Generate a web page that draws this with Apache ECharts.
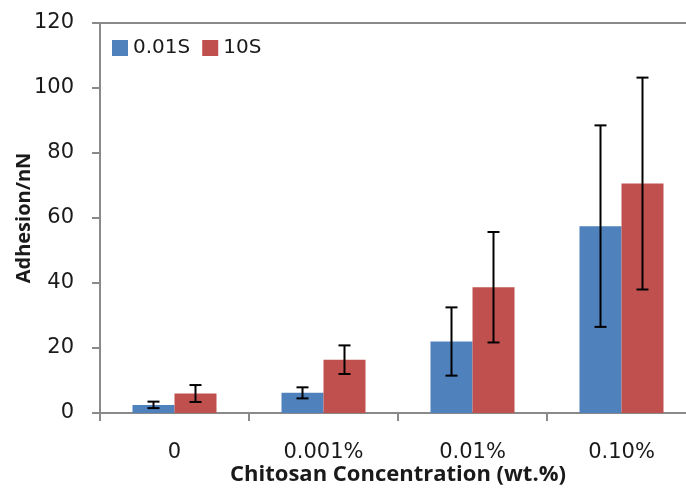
<!DOCTYPE html>
<html>
<head>
<meta charset="utf-8">
<script src="https://cdn.jsdelivr.net/npm/echarts@6/dist/echarts.min.js"></script>
<style>html,body{margin:0;padding:0;background:#fff;overflow:hidden;}#c{width:686px;height:489px;}</style>
</head>
<body>
<div id="c"></div>
<script>
var categories = ['0', '0.001%', '0.01%', '0.10%'];
var seriesNames = ['0.01S', '10S'];
var blueValues = [2.5, 6.2, 22.0, 57.5];
var blueErrors = [1.0, 1.7, 10.5, 31.0];
var redValues = [6.0, 16.4, 38.7, 70.6];
var redErrors = [2.6, 4.4, 17.0, 32.6];
var yTicks = [0, 20, 40, 60, 80, 100, 120];

var BAR_W = 42;
var FONT = 'DejaVu Sans';
var TITLE_FONT = 'Open Sans';
var AXIS_COLOR = '#8a8a8a';

function errorSeries(values, errors, side) {
  var data = values.map(function (v, i) { return [i, v - errors[i], v + errors[i]]; });
  return {
    type: 'custom',
    xAxisIndex: 0,
    z: 10,
    silent: true,
    data: data,
    renderItem: function (params, api) {
      var i = api.value(0);
      var lo = api.coord([i, api.value(1)]);
      var hi = api.coord([i, api.value(2)]);
      var x = lo[0] + side * BAR_W / 2;
      var cap = 6;
      var st = { stroke: '#000', lineWidth: 2 };
      return {
        type: 'group',
        children: [
          { type: 'line', shape: { x1: x, y1: lo[1], x2: x, y2: hi[1] }, style: st },
          { type: 'line', shape: { x1: x - cap, y1: lo[1], x2: x + cap, y2: lo[1] }, style: st },
          { type: 'line', shape: { x1: x - cap, y1: hi[1], x2: x + cap, y2: hi[1] }, style: st }
        ]
      };
    }
  };
}

var chart = echarts.init(document.getElementById('c'), null, { renderer: 'canvas' });
chart.setOption({
  animation: false,
  backgroundColor: '#fff',
  grid: { left: 100, width: 596, top: 23, bottom: 76, containLabel: false, outerBoundsMode: 'none' },
  legend: {
    left: 107, top: 33,
    itemWidth: 16, itemHeight: 16, itemGap: 12,
    icon: 'rect',
    textStyle: { fontFamily: FONT, fontSize: 20, color: '#1a1a1a' },
    data: seriesNames
  },
  xAxis: [{
    type: 'category',
    data: categories,
    position: 'bottom',
    axisLine: { lineStyle: { color: AXIS_COLOR, width: 2 } },
    axisTick: { show: true, length: 8, lineStyle: { color: AXIS_COLOR, width: 2 } },
    axisLabel: { fontFamily: FONT, fontSize: 21, color: '#1a1a1a', margin: 29 },
    name: 'Chitosan Concentration (wt.%)',
    nameLocation: 'middle',
    nameGap: 51,
    nameMoveOverlap: false,
    nameTextStyle: { fontFamily: TITLE_FONT, fontSize: 22, fontWeight: 'bold', color: '#1a1a1a' }
  }, {
    type: 'category',
    data: categories,
    position: 'top',
    axisLine: { lineStyle: { color: AXIS_COLOR, width: 2 } },
    axisTick: { show: false },
    axisLabel: { show: false }
  }],
  yAxis: {
    type: 'value',
    min: yTicks[0], max: yTicks[yTicks.length - 1], interval: yTicks[1] - yTicks[0],
    axisLine: { show: true, lineStyle: { color: AXIS_COLOR, width: 2 } },
    axisTick: { show: true, length: 8, lineStyle: { color: AXIS_COLOR, width: 2 } },
    splitLine: { show: false },
    axisLabel: { fontFamily: FONT, fontSize: 21, color: '#1a1a1a', margin: 26 },
    name: 'Adhesion/nN',
    nameLocation: 'middle',
    nameGap: 66,
    nameMoveOverlap: false,
    nameTextStyle: { fontFamily: TITLE_FONT, fontSize: 20, fontWeight: 'bold', color: '#1a1a1a' }
  },
  series: [
    { name: seriesNames[0], type: 'bar', data: blueValues, barWidth: BAR_W, barGap: '0%', itemStyle: { color: '#4F81BD' } },
    { name: seriesNames[1], type: 'bar', data: redValues, barWidth: BAR_W, barGap: '0%', itemStyle: { color: '#C0504D' } },
    errorSeries(blueValues, blueErrors, -1),
    errorSeries(redValues, redErrors, 1)
  ]
});
</script>
</body>
</html>
